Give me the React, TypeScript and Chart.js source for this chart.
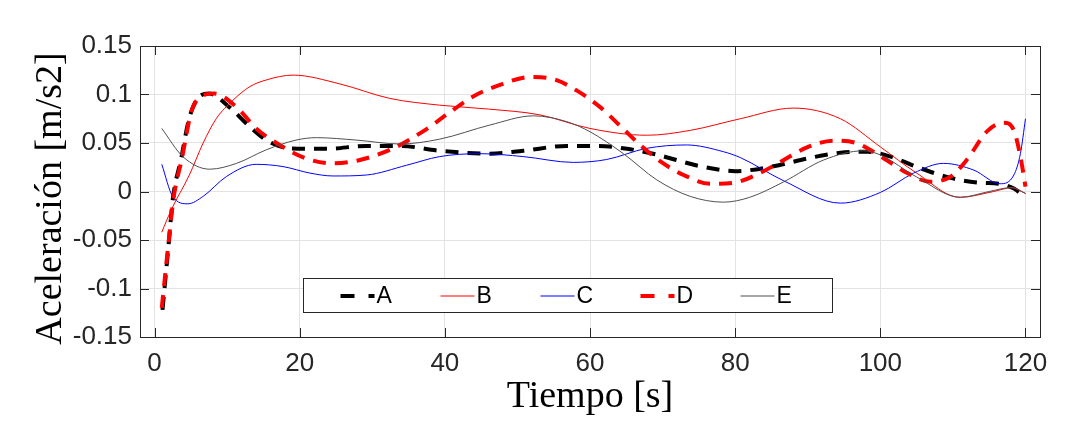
import React, { useEffect, useRef } from "react";
import { Chart, registerables } from "chart.js";

Chart.register(...registerables);

// ---- data ----
const seriesNames = ["A", "B", "C", "D", "E"];
const seriesColors = ["#000000", "#ff0000", "#0000ff", "#ff0000", "#505050"];
const xTickValues = [0, 20, 40, 60, 80, 100, 120];
const yTickValues = [-0.15, -0.1, -0.05, 0, 0.05, 0.1, 0.15];
const xTitle = "Tiempo [s]";
const yTitle = "Aceleración [m/s2]";

const timeA = [1.1, 2.0, 2.5, 3.7, 4.6, 5.2, 6.2, 7.5, 10.3, 13.1, 15.4, 18.6, 23.7, 29.2, 33.8, 39.3, 46.2, 50.8, 56.8, 60.9, 65.1, 69.2, 75.2, 80.0, 85.3, 89.9, 94.5, 98.2, 101.4, 105.5, 109.7, 113.8, 116.3, 118.4, 119.8];
const accelA = [-0.122, -0.05, -0.009, 0.035, 0.07, 0.085, 0.098, 0.101, 0.087, 0.067, 0.053, 0.0445, 0.044, 0.047, 0.047, 0.042, 0.039, 0.042, 0.047, 0.047, 0.044, 0.038, 0.026, 0.021, 0.026, 0.034, 0.04, 0.041, 0.036, 0.024, 0.014, 0.009, 0.008, 0.003, -0.005];

const timeB = [1, 2.3, 4.8, 6.7, 8.5, 10.8, 13.1, 15.4, 19.1, 25.5, 32.4, 39.3, 46, 53.1, 60, 67.8, 73.8, 80.7, 88, 94.5, 100, 105, 111, 115.6, 118.2, 120];
const accelB = [-0.042, -0.019, 0.017, 0.05, 0.075, 0.094, 0.108, 0.115, 0.12, 0.111, 0.096, 0.089, 0.085, 0.079, 0.065, 0.058, 0.063, 0.075, 0.086, 0.075, 0.046, 0.019, -0.006, 0, 0.004, -0.002];

const timeC = [1, 2.5, 4.6, 6.7, 9.9, 14, 17.7, 21.4, 24.6, 29.2, 34.7, 39.3, 44.8, 50.8, 57.7, 62.3, 67.8, 73.3, 78.4, 80.7, 86.7, 94.5, 100, 104.6, 108.7, 112.9, 116.5, 118.4, 119.3, 120];
const accelC = [0.028, -0.005, -0.0127, -0.005, 0.0154, 0.028, 0.0257, 0.019, 0.016, 0.017, 0.027, 0.036, 0.039, 0.036, 0.03, 0.033, 0.0445, 0.048, 0.041, 0.035, 0.011, -0.012, -0.001, 0.019, 0.029, 0.022, 0.008, 0.017, 0.039, 0.075];

const timeD = [1, 2.0, 2.6, 3.8, 5.1, 6.5, 8.2, 11.3, 14, 16.8, 20.9, 24.6, 28.3, 32.9, 37, 40.2, 43.9, 48, 51.7, 54.9, 58.2, 61.4, 64.1, 66.9, 69.7, 72.9, 76.6, 79.8, 83.4, 86.7, 89.9, 93.6, 96.8, 100.5, 103.7, 106.9, 109.7, 111.9, 114.7, 117, 118.4, 119.3, 120];
const accelD = [-0.12, -0.048, -0.008, 0.035, 0.083, 0.098, 0.101, 0.087, 0.065, 0.05, 0.034, 0.029, 0.0325, 0.0445, 0.062, 0.079, 0.098, 0.111, 0.118, 0.116, 0.104, 0.087, 0.068, 0.048, 0.031, 0.017, 0.008, 0.009, 0.019, 0.0325, 0.0455, 0.0524, 0.0497, 0.034, 0.019, 0.01, 0.0154, 0.0325, 0.062, 0.071, 0.063, 0.036, 0.005];

const timeE = [1, 3.9, 7.6, 11.3, 15.4, 19.5, 22.3, 27.8, 33.8, 39.3, 46.2, 52.2, 56.8, 60, 64.6, 69.2, 73.8, 78.4, 82, 86.7, 92.2, 97.7, 100, 105, 111, 115, 118, 120];
const accelE = [0.065, 0.036, 0.023, 0.029, 0.043, 0.053, 0.0555, 0.053, 0.049, 0.054, 0.0685, 0.078, 0.072, 0.0616, 0.039, 0.012, -0.005, -0.011, -0.006, 0.01, 0.0325, 0.042, 0.0377, 0.015, -0.006, 0.0, 0.004, -0.002];

const AXIS_COLOR = "#262626";
const SANS = "'Liberation Sans', Arial, Helvetica, sans-serif";
const SERIF = "'Liberation Serif', 'Times New Roman', Times, serif";

export default function App() {
  const canvasRef = useRef<HTMLCanvasElement>(null);

  useEffect(() => {
    const canvas = canvasRef.current;
    if (!canvas) return;
    const pts = (t: number[], v: number[]) => t.map((x, i) => ({ x, y: v[i] }));

    const framePlugin = {
      id: "frameAndLegend",
      afterDraw(chart: any) {
        const ctx = chart.ctx;
        const ca = chart.chartArea;
        const xs = chart.scales.x;
        const ys = chart.scales.y;
        ctx.save();
        // inward ticks on all four sides
        ctx.strokeStyle = AXIS_COLOR;
        ctx.lineWidth = 1;
        ctx.setLineDash([]);
        const tl = 9;
        ctx.beginPath();
        xs.ticks.forEach((t: any) => {
          const p = Math.round(xs.getPixelForValue(t.value)) + 0.5;
          ctx.moveTo(p, ca.bottom);
          ctx.lineTo(p, ca.bottom - tl);
          ctx.moveTo(p, ca.top);
          ctx.lineTo(p, ca.top + tl);
        });
        ys.ticks.forEach((t: any) => {
          const p = Math.round(ys.getPixelForValue(t.value)) + 0.5;
          ctx.moveTo(ca.left, p);
          ctx.lineTo(ca.left + tl, p);
          ctx.moveTo(ca.right, p);
          ctx.lineTo(ca.right - tl, p);
        });
        ctx.stroke();
        // box
        ctx.strokeRect(Math.round(ca.left) + 0.5, Math.round(ca.top) + 0.5, Math.round(ca.right - ca.left), Math.round(ca.bottom - ca.top));

        // y axis title
        ctx.save();
        ctx.translate(51, (ca.top + ca.bottom) / 2 + 7);
        ctx.rotate(-Math.PI / 2);
        ctx.fillStyle = "#000000";
        ctx.font = `38px ${SERIF}`;
        ctx.textAlign = "center";
        ctx.textBaseline = "middle";
        ctx.fillText(yTitle, 0, 0);
        ctx.restore();

        // legend inside the plot
        const bx = Math.round(ca.left + 163) + 0.5;
        const by = Math.round(ca.top + 232) + 0.5;
        const bw = 529;
        const bh = 34;
        ctx.fillStyle = "#ffffff";
        ctx.fillRect(bx, by, bw, bh);
        ctx.strokeStyle = AXIS_COLOR;
        ctx.lineWidth = 1;
        ctx.strokeRect(bx, by, bw, bh);
        const cy = Math.round(by + bh / 2);
        chart.data.datasets.forEach((ds: any, i: number) => {
          const sx = bx + 37 + 100 * i;
          const sLen = 34;
          const dashed = ds.borderWidth > 2;
          ctx.save();
          ctx.beginPath();
          ctx.strokeStyle = seriesColors[i];
          ctx.lineWidth = dashed ? 4 : 1.2;
          ctx.setLineDash(dashed ? [14, 14] : []);
          ctx.lineCap = "butt";
          ctx.moveTo(sx, cy);
          ctx.lineTo(sx + sLen, cy);
          ctx.stroke();
          ctx.restore();
          ctx.fillStyle = "#000000";
          ctx.font = `23px ${SANS}`;
          ctx.textBaseline = "middle";
          ctx.textAlign = "left";
          ctx.fillText(seriesNames[i], sx + sLen + 2, cy + 1);
        });
        ctx.restore();
      },
    };

    const chart = new Chart(canvas, {
      type: "line",
      data: {
        datasets: [
          { label: seriesNames[0], data: pts(timeA, accelA), borderColor: seriesColors[0], borderWidth: 4, borderDash: [13, 9], order: 5 },
          { label: seriesNames[1], data: pts(timeB, accelB), borderColor: seriesColors[1], borderWidth: 1, order: 4 },
          { label: seriesNames[2], data: pts(timeC, accelC), borderColor: seriesColors[2], borderWidth: 1, order: 3 },
          { label: seriesNames[3], data: pts(timeD, accelD), borderColor: seriesColors[3], borderWidth: 4, borderDash: [13, 9], order: 2 },
          { label: seriesNames[4], data: pts(timeE, accelE), borderColor: seriesColors[4], borderWidth: 1, order: 1 },
        ] as any,
      },
      options: {
        animation: false,
        responsive: false,
        maintainAspectRatio: false,
        devicePixelRatio: 1,
        layout: { padding: { left: 0, top: 46, right: 40, bottom: 0 } },
        elements: {
          point: { radius: 0, hoverRadius: 0 },
          line: { cubicInterpolationMode: "monotone", fill: false, borderCapStyle: "butt" },
        },
        plugins: {
          legend: { display: false },
          tooltip: { enabled: false },
          title: { display: false },
        },
        scales: {
          x: {
            type: "linear",
            min: -2,
            max: 122,
            afterBuildTicks: (scale: any) => {
              scale.ticks = xTickValues.map((v) => ({ value: v }));
            },
            afterFit: (scale: any) => {
              scale.height = 88;
            },
            grid: { color: "#e3e3e3", drawTicks: false, lineWidth: 1 },
            border: { display: false },
            ticks: {
              color: AXIS_COLOR,
              font: { family: SANS, size: 26 },
              padding: 11,
              maxRotation: 0,
              autoSkip: false,
              callback: (v: any) => String(v),
            },
            title: {
              display: true,
              text: xTitle,
              color: "#000000",
              font: { family: SERIF, size: 38, lineHeight: 1 },
              padding: { top: 0, bottom: 9 },
            },
          },
          y: {
            type: "linear",
            min: -0.15,
            max: 0.15,
            afterBuildTicks: (scale: any) => {
              scale.ticks = yTickValues.map((v) => ({ value: v }));
            },
            afterFit: (scale: any) => {
              scale.width = 140;
            },
            grid: { color: "#e3e3e3", drawTicks: false, lineWidth: 1 },
            border: { display: false },
            ticks: {
              color: AXIS_COLOR,
              font: { family: SANS, size: 26 },
              padding: 8,
              autoSkip: false,
              callback: (v: any) => String(Number(Number(v).toFixed(2))),
            },
            title: { display: false },
          },
        },
      } as any,
      plugins: [framePlugin],
    });

    return () => chart.destroy();
  }, []);

  return (
    <div style={{ position: "fixed", left: 0, top: 0, width: 1080, height: 425, background: "#ffffff" }}>
      <canvas ref={canvasRef} width={1080} height={425} style={{ display: "block", width: 1080, height: 425 }} />
    </div>
  );
}
